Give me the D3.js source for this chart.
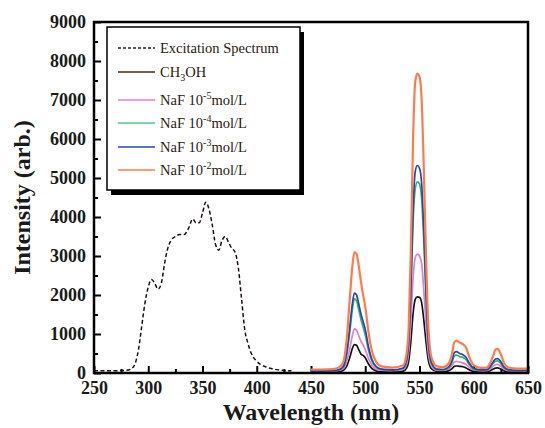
<!DOCTYPE html>
<html lang="en">
<head>
<meta charset="utf-8">
<title>Excitation and emission spectra</title>
<script src="https://cdn.jsdelivr.net/npm/d3@7"></script>
<style>
  body { margin: 0; background: #fff; }
  .axis text { font-family: "Liberation Serif", serif; font-weight: bold; font-size: 18px; fill: #1a1a1a; }
  .axis line { stroke: #000; stroke-width: 2px; }
  .axis path { display: none; }
  .title { font-family: "Liberation Serif", serif; font-weight: bold; font-size: 24px; fill: #1a1a1a; }
  .legend text { font-family: "Liberation Serif", serif; font-size: 14.5px; fill: #2a1a12; }
</style>
</head>
<body>
<script>
// excitation spectrum (dashed)
var exWave = [250,260,270,280,285,288,291,294,297,300,303,306,309,312,315,318,321,325,329,333,337,341,344,347,350,353,356,359,362,365,368,371,374,377,380,383,386,389,392,395,399,403,408,414,420,427,432];
var exValues = [60,60,60,70,120,250,600,1200,1800,2200,2400,2300,2150,2300,2800,3200,3400,3500,3550,3550,3700,3950,3850,3850,4100,4380,4200,3800,3300,3150,3400,3500,3350,3200,3100,2700,1900,1100,750,500,330,230,160,110,80,60,55];

// emission spectra
var emWave = [450,460,470,476,480,483,486,488,490,492,494,496,498,500,503,506,510,515,525,535,538,540,542,544,546,548,550,552,554,556,558,561,566,572,577,580,582,584,587,590,593,596,600,606,612,615,618,620,622,625,628,632,640,650];
var ch3oh = [20,20,25,40,70,180,420,620,730,710,600,490,450,390,230,120,55,30,25,50,120,300,800,1500,1880,1950,1940,1800,1350,800,350,110,40,35,60,110,170,180,170,160,130,80,40,25,30,60,100,125,130,100,55,30,20,20];
var naf5 = [40,40,50,70,120,300,650,950,1130,1100,960,820,720,600,370,200,100,70,60,100,220,520,1300,2400,2950,3050,3000,2800,2100,1250,550,180,70,65,100,190,280,300,280,260,220,140,80,60,60,100,170,210,220,170,100,60,50,55];
var naf4 = [45,45,55,80,160,480,1100,1600,1900,1850,1620,1380,1180,980,580,310,150,90,70,120,300,750,2000,3800,4700,4900,4850,4450,3350,1950,850,250,90,80,140,280,430,460,420,400,340,210,100,70,75,140,250,300,310,240,130,75,55,60];
var naf3 = [50,50,60,90,180,550,1250,1750,2050,2000,1770,1520,1320,1120,670,360,170,100,80,130,330,800,2150,4100,5150,5320,5250,4850,3650,2100,900,270,100,90,160,320,520,550,500,470,400,250,120,80,85,160,290,360,370,290,150,85,65,70];
var naf2 = [90,90,100,150,300,900,2000,2700,3100,3050,2750,2350,2000,1700,1050,580,290,170,140,200,480,1150,3100,5900,7450,7680,7600,7000,5200,3000,1300,400,170,150,250,500,780,830,780,740,650,400,200,130,140,250,450,600,620,480,250,140,110,120];

var seriesData = [ch3oh, naf5, naf4, naf3, naf2];
var seriesColors = ["#1a1210", "#e27ccd", "#2fb36f", "#2447a8", "#ff7a4e"];
var legendColors = ["#4a2a1e", "#e27ccd", "#52c98a", "#2447a8", "#ff7a4e"];
var exponents = ["-5", "-4", "-3", "-2"];

var xTicks = [250,300,350,400,450,500,550,600,650];
var yTicks = [0,1000,2000,3000,4000,5000,6000,7000,8000,9000];

var w = 545, h = 428;
var padL = 94, padR = 528, padT = 22, padB = 373;

var svg = d3.select("body").append("svg")
  .attr("width", w)
  .attr("height", h);

var x = d3.scaleLinear().domain([250, 650]).range([padL, padR]);
var y = d3.scaleLinear().domain([0, 9000]).range([padB, padT]);

// minor ticks
svg.append("g").attr("class", "axis")
  .attr("transform", "translate(0," + padB + ")")
  .call(d3.axisBottom(x).tickValues(d3.range(275, 650, 50)).tickSize(-4).tickFormat(""));
svg.append("g").attr("class", "axis")
  .attr("transform", "translate(" + padL + ",0)")
  .call(d3.axisLeft(y).tickValues(d3.range(500, 9000, 1000)).tickSize(-4).tickFormat(""));

// major ticks + labels
svg.append("g").attr("class", "axis")
  .attr("transform", "translate(0," + padB + ")")
  .call(d3.axisBottom(x).tickValues(xTicks).tickSize(-7).tickPadding(8).tickFormat(d3.format("d")));
svg.append("g").attr("class", "axis")
  .attr("transform", "translate(" + padL + ",0)")
  .call(d3.axisLeft(y).tickValues(yTicks).tickSize(-7).tickPadding(8).tickFormat(d3.format("d")));

var line = d3.line()
  .x(function(d) { return x(d[0]); })
  .y(function(d) { return y(d[1]); })
  .curve(d3.curveMonotoneX);

// excitation
svg.append("path")
  .datum(exWave.map(function(v, i) { return [v, exValues[i]]; }))
  .attr("d", line)
  .attr("fill", "none")
  .attr("stroke", "#1a1210")
  .attr("stroke-width", 1.5)
  .attr("stroke-dasharray", "4,2.5");

// emission
seriesData.forEach(function(vals, k) {
  svg.append("path")
    .datum(emWave.map(function(v, i) { return [v, vals[i]]; }))
    .attr("d", line)
    .attr("fill", "none")
    .attr("stroke", seriesColors[k])
    .attr("stroke-width", k == 4 ? 2.2 : 1.7);
});

// frame
svg.append("rect")
  .attr("x", padL).attr("y", padT)
  .attr("width", padR - padL).attr("height", padB - padT)
  .attr("fill", "none").attr("stroke", "#000").attr("stroke-width", 2.5);

// axis titles
svg.append("text").attr("class", "title")
  .attr("x", (padL + padR) / 2).attr("y", 420)
  .attr("text-anchor", "middle")
  .text("Wavelength (nm)");
svg.append("text").attr("class", "title")
  .attr("transform", "translate(30," + (padT + padB) / 2 + ") rotate(-90)")
  .attr("text-anchor", "middle")
  .text("Intensity (arb.)");

// legend
var lg = svg.append("g").attr("class", "legend");
lg.append("rect")
  .attr("x", 111).attr("y", 32).attr("width", 193).attr("height", 163)
  .attr("fill", "#000");
lg.append("rect")
  .attr("x", 107).attr("y", 27).attr("width", 193).attr("height", 163)
  .attr("fill", "#fff").attr("stroke", "#000").attr("stroke-width", 1.5);

var rowY = [48, 72, 100, 123, 147, 170];

lg.append("line")
  .attr("x1", 118).attr("x2", 155).attr("y1", rowY[0]).attr("y2", rowY[0])
  .attr("stroke", "#2a1a12").attr("stroke-width", 1.5).attr("stroke-dasharray", "3,2");
lg.append("text").attr("x", 160).attr("y", rowY[0] + 5).text("Excitation Spectrum");

seriesData.forEach(function(vals, k) {
  var yy = rowY[k + 1];
  lg.append("line")
    .attr("x1", 118).attr("x2", 155).attr("y1", yy).attr("y2", yy)
    .attr("stroke", legendColors[k]).attr("stroke-width", 1.6);
  var t = lg.append("text").attr("x", 160).attr("y", yy + 5);
  if (k == 0) {
    t.append("tspan").text("CH");
    t.append("tspan").attr("dy", 4).attr("font-size", "10px").text("3");
    t.append("tspan").attr("dy", -4).text("OH");
  } else {
    t.append("tspan").text("NaF 10");
    t.append("tspan").attr("dy", -6).attr("font-size", "10px").text(exponents[k - 1]);
    t.append("tspan").attr("dy", 6).text("mol/L");
  }
});
</script>
</body>
</html>
